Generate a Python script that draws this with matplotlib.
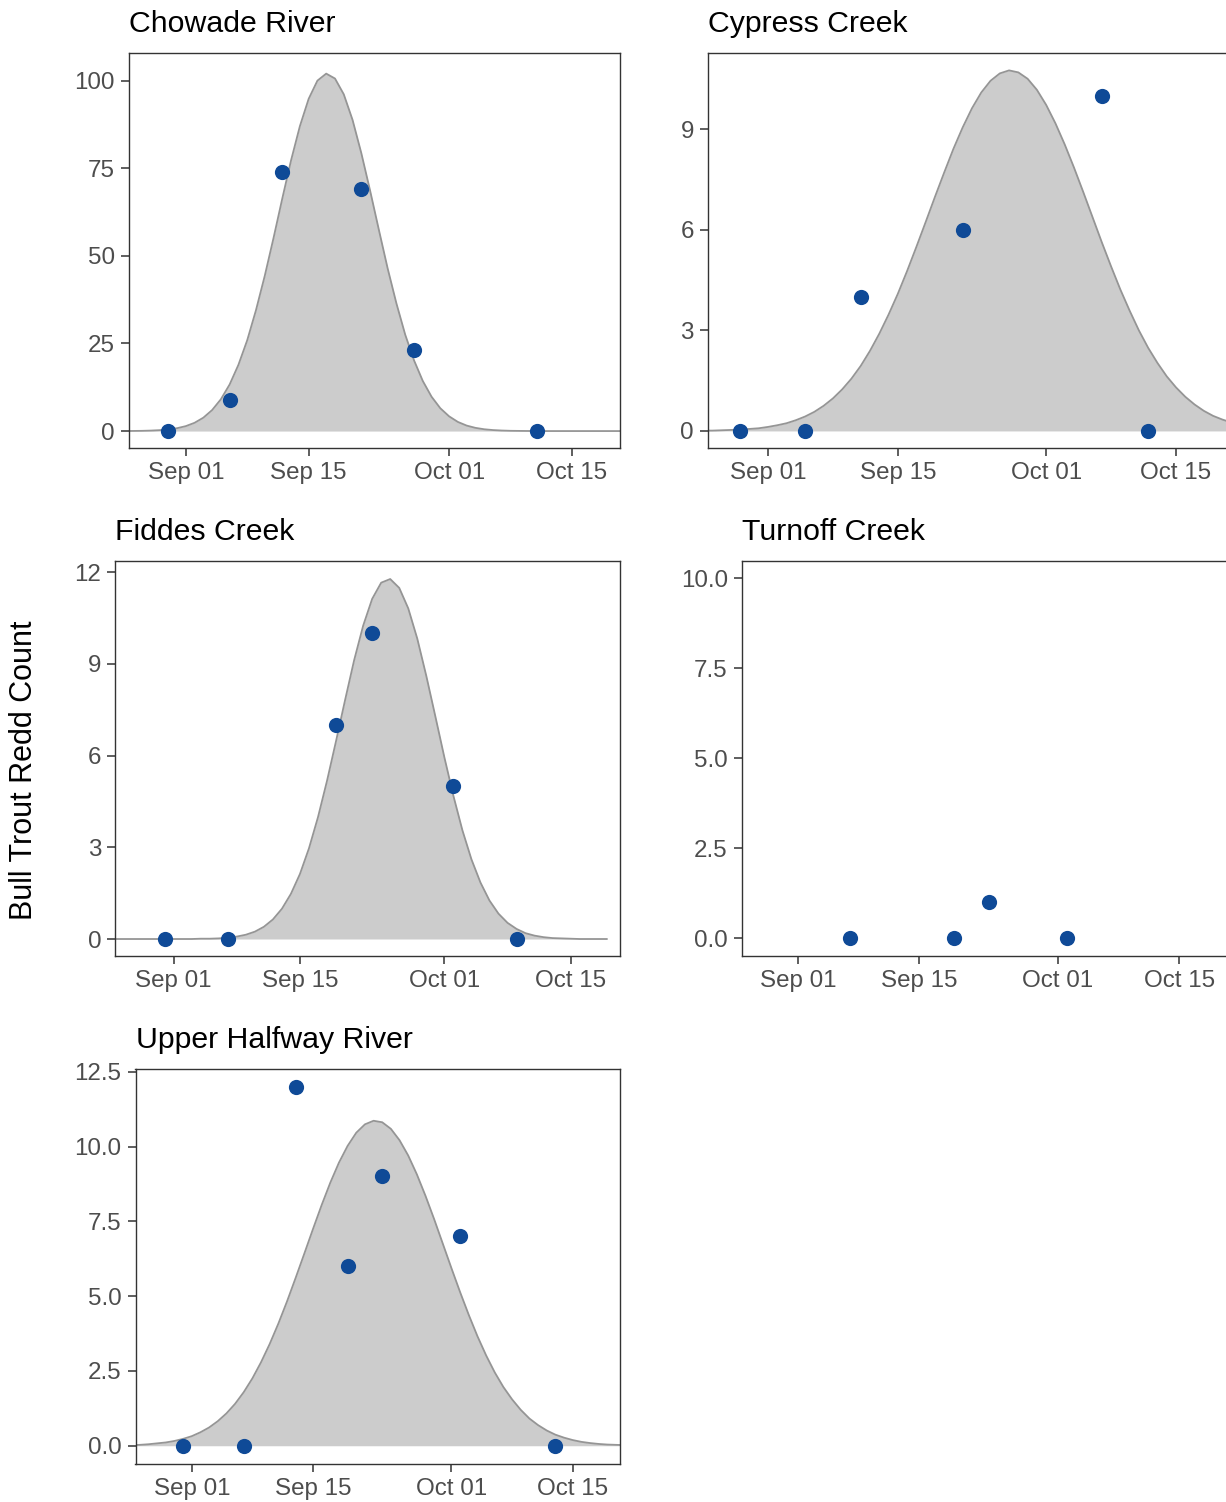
import numpy as np
import pandas as pd
import matplotlib
matplotlib.use('Agg')
import matplotlib.pyplot as plt
import matplotlib.dates as mdates

plt.rcParams['font.family'] = ['Liberation Sans', 'DejaVu Sans']

# survey dates and redd counts per river
chowade_dates = ['2021-08-30', '2021-09-06', '2021-09-12', '2021-09-21', '2021-09-27', '2021-10-11']
chowade_counts = [0, 9, 74, 69, 23, 0]

cypress_dates = ['2021-08-29', '2021-09-05', '2021-09-11', '2021-09-22', '2021-10-07', '2021-10-12']
cypress_counts = [0, 0, 4, 6, 10, 0]

fiddes_dates = ['2021-08-31', '2021-09-07', '2021-09-19', '2021-09-23', '2021-10-02', '2021-10-09']
fiddes_counts = [0, 0, 7, 10, 5, 0]

turnoff_dates = ['2021-09-07', '2021-09-19', '2021-09-23', '2021-10-02']
turnoff_counts = [0, 0, 1, 0]

halfway_dates = ['2021-08-31', '2021-09-07', '2021-09-13', '2021-09-19', '2021-09-23', '2021-10-02', '2021-10-13']
halfway_counts = [0, 0, 12, 6, 9, 7, 0]

# fitted spawning curves, one value per day starting Aug 25
curve_start = '2021-08-25'
chowade_curve = [0.01, 0.03, 0.06, 0.13, 0.25, 0.45, 0.81, 1.40, 2.35, 3.81, 5.98, 9.07, 13.3, 18.9,
                 25.9, 34.5, 44.3, 55.1, 66.4, 77.3, 87.0, 94.8, 100.0, 102.0, 100.6, 96.1, 88.8, 79.3,
                 68.6, 57.4, 46.4, 36.4, 27.5, 20.2, 14.3, 9.8, 6.5, 4.2, 2.6, 1.56, 0.91, 0.51, 0.28,
                 0.15, 0.07, 0.04, 0.02, 0.01, 0, 0, 0, 0, 0, 0, 0, 0, 0, 0]
cypress_curve = [0.01, 0.01, 0.02, 0.03, 0.04, 0.06, 0.08, 0.12, 0.17, 0.23, 0.32, 0.43, 0.57, 0.75,
                 0.97, 1.24, 1.56, 1.94, 2.39, 2.90, 3.47, 4.09, 4.77, 5.49, 6.23, 6.98, 7.71, 8.42,
                 9.06, 9.63, 10.10, 10.45, 10.67, 10.76, 10.70, 10.51, 10.18, 9.73, 9.18, 8.55, 7.86,
                 7.13, 6.38, 5.63, 4.91, 4.22, 3.59, 3.00, 2.48, 2.03, 1.63, 1.30, 1.02, 0.79, 0.60,
                 0.45, 0.34, 0.25]
fiddes_curve = [0, 0, 0, 0, 0, 0, 0, 0, 0, 0, 0.01, 0.01, 0.02, 0.04, 0.08, 0.14, 0.24, 0.40, 0.64,
                0.99, 1.48, 2.13, 2.97, 3.99, 5.18, 6.48, 7.82, 9.12, 10.25, 11.13, 11.66, 11.78,
                11.49, 10.82, 9.83, 8.61, 7.29, 5.95, 4.69, 3.56, 2.61, 1.85, 1.26, 0.83, 0.53, 0.33,
                0.19, 0.11, 0.06, 0.03, 0.02, 0.01, 0, 0, 0, 0]
halfway_curve = [0.02, 0.03, 0.05, 0.08, 0.11, 0.16, 0.23, 0.32, 0.45, 0.61, 0.82, 1.08, 1.40, 1.79,
                 2.25, 2.79, 3.40, 4.08, 4.82, 5.61, 6.42, 7.24, 8.04, 8.79, 9.46, 10.02, 10.46, 10.74,
                 10.86, 10.81, 10.59, 10.21, 9.70, 9.07, 8.35, 7.57, 6.75, 5.93, 5.13, 4.37, 3.66,
                 3.02, 2.45, 1.96, 1.55, 1.20, 0.91, 0.69, 0.51, 0.37, 0.27, 0.19, 0.13, 0.09, 0.06,
                 0.04, 0.03, 0.02]

W, H = 1226, 1502
fig = plt.figure(figsize=(W / 100, H / 100), dpi=100)


def box(l, r, t, b):
    return [l / W, 1 - b / H, (r - l) / W, (b - t) / H]


panels = [
    ('Chowade River', chowade_dates, chowade_counts, chowade_curve,
     box(128.7, 620.3, 53.3, 447.7), (-4.75, 107.8), [0, 25, 50, 75, 100], '%d'),
    ('Cypress Creek', cypress_dates, cypress_counts, cypress_curve,
     box(707.7, 1227, 53.3, 447.7), (-0.5, 11.27), [0, 3, 6, 9], '%d'),
    ('Fiddes Creek', fiddes_dates, fiddes_counts, fiddes_curve,
     box(115, 620.3, 561, 956), (-0.556, 12.37), [0, 3, 6, 9, 12], '%d'),
    ('Turnoff Creek', turnoff_dates, turnoff_counts, None,
     box(741.7, 1227, 561, 956), (-0.49, 10.48), [0, 2.5, 5, 7.5, 10], '%.1f'),
    ('Upper Halfway River', halfway_dates, halfway_counts, halfway_curve,
     box(135.5, 620.3, 1068.7, 1463.7), (-0.6, 12.6), [0, 2.5, 5, 7.5, 10, 12.5], '%.1f'),
]

x0 = pd.Timestamp('2021-09-01') - pd.Timedelta(days=6.5)
x1 = pd.Timestamp('2021-09-01') + pd.Timedelta(days=49.5)
xticks = pd.to_datetime(['2021-09-01', '2021-09-15', '2021-10-01', '2021-10-15'])

for title, dates, counts, curve, pos, ylim, yticks, fmt in panels:
    ax = fig.add_axes(pos)
    if curve is not None:
        cd = pd.date_range(curve_start, periods=len(curve), freq='D')
        ax.fill_between(cd, 0, curve, color='#CCCCCC', lw=0, zorder=1)
        ax.plot(cd, curve, color='#959595', lw=1.3, zorder=2)
    ax.scatter(pd.to_datetime(dates), counts, s=120, color='#0F4A97', lw=0, zorder=3)
    ax.set_xlim(x0, x1)
    ax.set_ylim(*ylim)
    ax.set_xticks(xticks)
    ax.xaxis.set_major_formatter(mdates.DateFormatter('%b %d'))
    ax.set_yticks(yticks)
    ax.yaxis.set_major_formatter(matplotlib.ticker.FormatStrFormatter(fmt))
    ax.tick_params(length=6, width=1.1, color='#333333', labelcolor='#4D4D4D',
                   labelsize=17.4, pad=4)
    for s in ax.spines.values():
        s.set_color('#333333')
        s.set_linewidth(1.0)
    ax.set_title(title, loc='left', fontsize=21.8, pad=15, color='black')

fig.text(24 / W, 1 - 770 / H, 'Bull Trout Redd Count', rotation=90, ha='center', va='center',
         fontsize=22, color='black')

fig.savefig('out.png', dpi=100)
